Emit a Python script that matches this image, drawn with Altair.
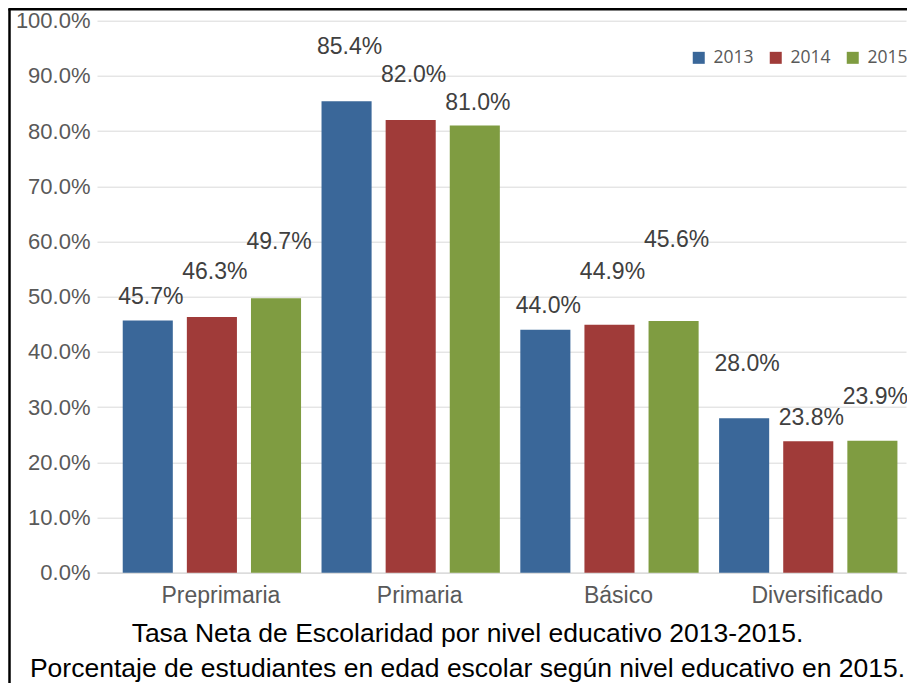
import altair as alt
import pandas as pd

levels = ["Preprimaria", "Primaria", "Básico", "Diversificado"]
years = ["2013", "2014", "2015"]
v2013 = [45.7, 85.4, 44.0, 28.0]
v2014 = [46.3, 82.0, 44.9, 23.8]
v2015 = [49.7, 81.0, 45.6, 23.9]
# heights (in %) at which each value label sits in the original
lab2013 = [50.0, 95.3, 48.3, 37.8]
lab2014 = [54.5, 90.2, 54.5, 28.0]
lab2015 = [59.9, 85.1, 60.2, 31.9]
colors = ["#3A6799", "#A03B39", "#7F9C41"]
title_lines = [
    "Tasa Neta de Escolaridad por nivel educativo 2013-2015.",
    "Porcentaje de estudiantes en edad escolar según nivel educativo en 2015.",
]

rows = []
for yr, vals, labs in zip(years, [v2013, v2014, v2015], [lab2013, lab2014, lab2015]):
    for lvl, v, lp in zip(levels, vals, labs):
        rows.append({"nivel": lvl, "anio": yr, "valor": v / 100, "lab": lp / 100,
                     "texto": f"{v:.1f}%"})
df = pd.DataFrame(rows)

W, H = 809, 552
PAD = {"left": 89, "top": 12.7, "right": 1, "bottom": 110.3}

x_enc = alt.X(
    "nivel:N", sort=levels, title=None,
    scale=alt.Scale(paddingInner=0.103, paddingOuter=0.0863, align=0.75),
    axis=alt.Axis(labelAngle=0, labelFont="Liberation Sans", labelFontSize=23,
                  labelColor="#595959", labelPadding=12, labelOffset=9,
                  ticks=False, domain=True, domainColor="#D9D9D9",
                  domainWidth=1.3, grid=False),
)
xo_enc = alt.XOffset("anio:N", sort=years,
                     scale=alt.Scale(paddingInner=0.219, paddingOuter=0))
y_scale = alt.Scale(domain=[0, 1])

base = alt.Chart(df)

bars = base.mark_bar().encode(
    x=x_enc,
    xOffset=xo_enc,
    y=alt.Y("valor:Q", scale=y_scale, title=None,
            axis=alt.Axis(format=".1%", tickCount=10, ticks=False, domain=False,
                          grid=True, gridColor="#D9D9D9", gridWidth=1,
                          labelFont="Liberation Sans", labelFontSize=22,
                          labelColor="#595959", labelPadding=7)),
    color=alt.Color("anio:N", scale=alt.Scale(domain=years, range=colors),
                    legend=alt.Legend(orient="none", legendX=593, legendY=28,
                                      direction="horizontal", title=None,
                                      symbolType="square", symbolSize=144,
                                      symbolStrokeWidth=0, symbolOpacity=1,
                                      labelFont="Open Sans", labelFontSize=17.5,
                                      labelColor="#595959", labelOffset=6,
                                      columnPadding=13, padding=0)),
)

labels = base.mark_text(font="Liberation Sans", fontSize=23, color="#404040",
                        align="center", baseline="middle", dx=3).encode(
    x=x_enc,
    xOffset=xo_enc,
    y=alt.Y("lab:Q", scale=y_scale, title=None),
    text="texto:N",
)

frame_df = pd.DataFrame({"k": [0]})
left_border = alt.Chart(frame_df).mark_rule(color="black", strokeWidth=2.5).encode(
    x=alt.value(-87.5), y=alt.value(-11.7), y2=alt.value(H + PAD["bottom"]))
top_border = alt.Chart(frame_df).mark_rule(color="black", strokeWidth=2.5).encode(
    x=alt.value(-88.7), x2=alt.value(W + 1), y=alt.value(-11.5))

chart = alt.layer(bars, labels, left_border, top_border).properties(
    width=W, height=H,
    padding=PAD,
    autosize=alt.AutoSizeParams(type="none"),
    title=alt.TitleParams(text=title_lines, orient="bottom", anchor="middle",
                          frame="group", dx=-34, offset=-63, fontSize=26.5,
                          font="Liberation Sans", fontWeight="normal",
                          color="#000000", lineHeight=35),
).configure_view(stroke=None)

chart.save("out.html", embed_options={"renderer": "svg", "actions": False})
